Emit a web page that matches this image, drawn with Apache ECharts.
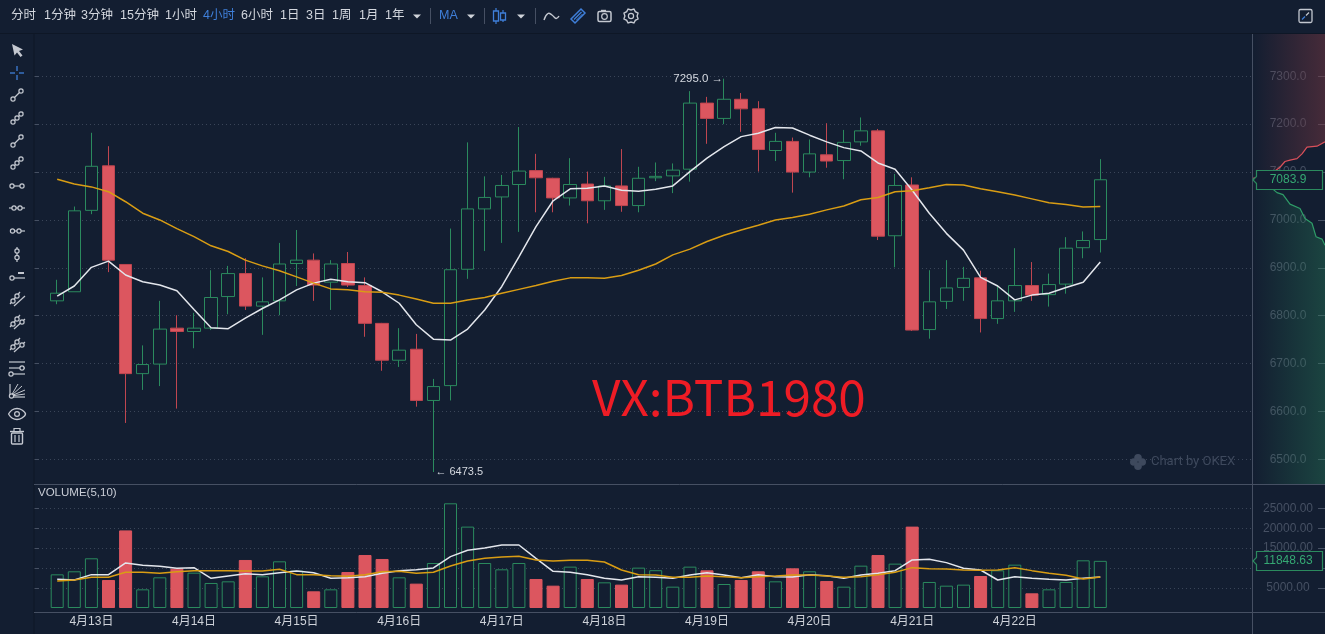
<!DOCTYPE html>
<html><head><meta charset="utf-8">
<style>html,body{margin:0;padding:0;background:#131e31;overflow:hidden}#c{width:1325px;height:634px}</style>
<script src="https://cdn.jsdelivr.net/npm/echarts@6/dist/echarts.min.js"></script>
</head><body><div id="c"></div>
<script>
const opens=[6831,6850,7020,7113,6907,6679,6699,6774,6767,6774,6840,6888,6820,6831,6909,6916,6870,6909,6863,6784,6707,6730,6623,6654,6897,7023,7048,7074,7103,7087,7046,7075,7040,7071,7030,7088,7092,7106,7244,7212,7252,7232,7145,7164,7100,7136,7124,7163,7186,6967,7073,6771,6830,6859,6879,6794,6831,6863,6844,6866,6942,6959];
const closes=[6847,7019,7112,6916,6679,6698,6772,6767,6774,6838,6888,6820,6829,6908,6916,6864,6908,6864,6784,6707,6728,6623,6652,6896,7023,7047,7072,7102,7088,7046,7074,7040,7071,7030,7087,7091,7104,7244,7212,7252,7232,7147,7164,7100,7138,7123,7162,7186,6966,7072,6770,6829,6858,6878,6794,6831,6863,6843,6865,6941,6957,7083.9];
const lows=[6824,6850,7012,6891,6576,6645,6653,6606,6732,6770,6803,6812,6760,6801,6862,6831,6812,6860,6756,6685,6693,6610,6473.5,6623,6877,6935,6952,6975,7016,7016,7030,6993,7021,7017,7016,7081,7056,7080,7159,7200,7184,7101,7123,7057,7089,7109,7085,7155,6958,6901,6768,6752,6814,6831,6765,6783,6808,6831,6819,6846,6920,6932];
const highs=[6875,7028,7182,7154,6907,6738,6831,6801,6806,6895,6904,6920,6880,6952,6979,6930,6916,6933,6880,6785,6774,6762,6668,6982,7162,7091,7094,7194,7138,7088,7129,7101,7090,7148,7111,7120,7118,7269,7257,7295,7265,7248,7182,7172,7168,7202,7188,7214,7190,7096,7089,6895,6916,6902,6894,6864,6941,6912,6888,6964,6976,7127];
const priceMaFast=[6841,6862,6901,6914,6885,6871,6864,6852,6813,6775,6773,6795,6815,6833,6854,6868,6876,6871,6869,6850,6826,6781,6751,6749,6772,6812,6861,6923,6986,7040,7065,7066,7071,7062,7060,7064,7071,7101,7129,7153,7174,7181,7193,7192,7177,7163,7151,7144,7119,7106,7062,7014,6972,6937,6880,6862,6833,6843,6847,6859,6870,6912];
const priceMaSlow=[7085,7075,7069,7059,7038,7014,7000,6982,6965,6946,6934,6916,6904,6894,6881,6868,6856,6854,6850,6849,6843,6835,6826,6826,6833,6838,6847,6855,6863,6872,6879,6879,6878,6884,6895,6908,6927,6939,6955,6968,6979,6989,7000,7005,7012,7021,7029,7042,7047,7059,7061,7067,7074,7073,7065,7059,7052,7044,7036,7032,7027,7028];
const volumes=[8460,9220,12490,7040,19500,4690,7710,9890,8880,6290,6700,12070,7960,11730,9390,4190,4690,9050,13320,12320,7710,6120,11310,26310,20450,11310,9720,11310,7290,5610,10390,7290,6450,5870,10140,9500,5360,10390,9470,6030,7040,9220,6700,9970,9220,6790,5360,10640,13320,11150,20450,6540,5610,5870,8040,9470,10890,3690,4690,6540,11980,11848.63];
const volMaFast=[7210,7040,8380,8380,11310,10730,10480,9970,10140,7460,8050,8630,8380,8880,9300,8880,7460,7630,7880,8720,9390,9640,10060,12910,14500,15080,15840,15840,12490,9220,8970,8380,7460,7040,7880,7710,7460,8300,8880,8300,7630,8380,7880,7790,8380,8130,7460,8300,8720,9390,12070,12230,11400,9970,9550,7040,7880,7460,7210,7040,7460,7790];
const volMaSlow=[6790,7040,7710,7710,8970,8970,8720,9130,9390,9390,9390,9300,9300,9720,8380,8380,8130,7960,8380,9130,9220,8720,8970,10560,11820,12490,12820,12990,12070,11820,11980,11980,11560,9550,8380,8300,7710,7710,8050,7880,7630,7880,8050,8300,8300,8050,7710,7880,8380,8970,10140,9890,9800,9550,9470,9550,10140,9390,8720,8210,7290,7790];
const dateLabels=['4月13日','4月14日','4月15日','4月16日','4月17日','4月18日','4月19日','4月20日','4月21日','4月22日'];
const askDepth=[[0,7087],[7,7090],[14,7094],[20,7099],[27,7110],[32,7122],[37,7125],[44,7128],[49,7138],[54,7152],[64,7154],[72,7163]];
const bidDepth=[[0,7086],[4,7080],[12,7078],[19,7066],[24,7057],[30,7053],[37,7033],[47,7024],[52,7003],[59,6993],[63,6965],[69,6960],[72,6947]];
const periodLabels=['分时','1分钟','3分钟','15分钟','1小时','4小时','6小时','1日','3日','1周','1月','1年'];
const activePeriod='4小时';
const lastPrice=7083.9, lastVolume=11848.63;

const BG='#131e31',UP='#2b8a5e',DN='#dc565f',DNW='#bf4650',GRID='#3a4558',AX='#465063',TXT='#c9cdd6',LBL='#465063',BLUE='#3f7fd9',ICON='#c4c8d0';
const N=opens.length, STEP=17.1, X0=57.2-STEP/2, CW=STEP*N;
const cats=opens.map((_,i)=>i%6===2?dateLabels[(i-2)/6]:'');
const candles=opens.map((o,i)=>[o,closes[i],lows[i],highs[i]]);
const volBars=volumes.map((v,i)=>({value:v,itemStyle:closes[i]>=opens[i]?{color:BG,borderColor:UP,borderWidth:1}:{color:DN,borderColor:DN,borderWidth:1}}));

const font='"Liberation Sans","Noto Sans CJK SC",sans-serif';
const hiddenX=g=>({type:'value',gridIndex:g,show:false,min:0,max:1});
const chart=echarts.init(document.getElementById('c'),null,{renderer:'canvas'});
const gridFrameP={left:34,width:1219,top:76.3,height:383};
const gridFrameV={left:34,width:1219,top:508.3,height:79.6};

const g=[];
const L=(x1,y1,x2,y2,c=ICON,w=1.2)=>g.push({type:'line',silent:true,z:50,shape:{x1,y1,x2,y2},style:{stroke:c,lineWidth:w}});
const R=(cx,cy,r=2.1,c=ICON)=>g.push({type:'circle',silent:true,z:51,shape:{cx,cy,r},style:{fill:BG,stroke:c,lineWidth:1.2}});
const T=(text,x,y,fill,size=12,align='left',ff=font)=>g.push({type:'text',silent:true,z:60,x,y,style:{text,fill,font:size+'px '+ff,textAlign:align,textVerticalAlign:'middle'}});
const P=(points,style,extra={})=>g.push({type:'polygon',silent:true,z:50,shape:{points},style,...extra});
const PL=(points,c=ICON,w=1.3,smooth=0)=>g.push({type:'polyline',silent:true,z:50,shape:{points,smooth},style:{stroke:c,lineWidth:w,fill:null}});
const caret=x=>P([[x-4,14.5],[x+4,14.5],[x,18.5]],{fill:'#d0d4da'});

// frame lines
L(0,33.5,1325,33.5,'#0e1726',1);L(34,34,34,634,'#0e1726',1);
L(1252.5,34,1252.5,634,AX,1);L(34,484.5,1325,484.5,AX,1);L(34,612.5,1325,612.5,AX,1);

// top toolbar
const periodX=[11,44,81,120,165,203,241,280,306,332,359,385];
periodLabels.forEach((t,i)=>T(t,periodX[i],16,t===activePeriod?BLUE:'#d3d7de',12.5));
caret(417);L(430.5,8,430.5,24,AX,1);
T('MA',439,16,BLUE,12.5);caret(471);L(484.5,8,484.5,24,AX,1);
L(496,8,496,24,BLUE,1.2);L(503,10,503,22,BLUE,1.2);
g.push({type:'rect',silent:true,z:51,shape:{x:493.5,y:11,width:5,height:10},style:{fill:BG,stroke:BLUE,lineWidth:1.3}});
g.push({type:'rect',silent:true,z:51,shape:{x:500.5,y:13,width:5,height:7},style:{fill:BG,stroke:BLUE,lineWidth:1.3}});
caret(521);L(535.5,8,535.5,24,AX,1);
PL([[544,20],[548,13.5],[552,15],[556,18.5],[559,16]],ICON,1.4,0.5);
P([[571,19],[581,9],[585,13],[575,23]],{fill:BG,stroke:BLUE,lineWidth:1.5});L(574,19.5,581.5,12,BLUE,1.2);L(576.5,20,582.5,14,BLUE,1);
g.push({type:'rect',silent:true,z:50,shape:{x:598,y:11.5,width:13,height:10,r:1.5},style:{fill:BG,stroke:ICON,lineWidth:1.5}});
L(601,10.5,606,10.5,ICON,1.4);R(604.5,16.5,2.8);
const gear=[];for(let i=0;i<16;i++){const r=i%2?7.6:6.1,a=i*Math.PI/8;gear.push([631+r*Math.cos(a),16+r*Math.sin(a)]);}
P(gear,{fill:BG,stroke:ICON,lineWidth:1.4});R(631,16,2.6);
g.push({type:'rect',silent:true,z:50,shape:{x:1299,y:9.5,width:13,height:13,r:1.5},style:{fill:BG,stroke:ICON,lineWidth:1.3}});
L(1302,19.5,1305,16.5,BLUE,1.2);L(1309,12.5,1306,15.5,ICON,1.2);

// left toolbar
P([[12,44],[23,49.5],[19,51],[22.5,55.5],[20.5,57],[17,52.5],[14.5,55.5]],{fill:ICON});
L(10,73,15,73,BLUE,1.3);L(19,73,24,73,BLUE,1.3);L(17,66,17,71,BLUE,1.3);L(17,75,17,80,BLUE,1.3);
const diag=(y,n,ext)=>{L(12,y+5,22+(ext?1:0),y-5-(ext?1:0));R(13,y+4);R(21,y-4);if(n===3)R(17,y);};
diag(95,2,false);diag(118,3,true);diag(141,2,true);diag(163,3,false);
L(11,186,23,186);R(12,186);R(22,186);
L(9,208,25,208);R(14,208);R(20,208);
L(10,231,25,231);R(12.5,231);R(19,231);
L(17,247,17,262);R(17,251);R(17,257.5);
L(14,278,25,278);R(12,278);L(18,273,24,273,ICON,2);
[299,322,345].forEach((y,k)=>{L(10,y+5,20,y-7);L(14,y+7,25,y-3);R(13,y+2);R(17,y-3);if(k>0)R(22,y);});
[362,368,374].forEach(y=>L(9,y,25,y));R(22,368);R(11,374);
L(10,397,25,397);L(10,384,10,397);[[18,384],[22,386],[25,390],[25,394]].forEach(p=>L(11,396,p[0],p[1],ICON,1));R(11.5,396);
PL([[8.5,414],[12,410],[17,408.5],[22,410],[25.5,414],[22,418],[17,419.5],[12,418],[8.5,414]],ICON,1.4,0.4);R(17,414,2.4);
L(10,431.5,24,431.5,ICON,1.4);g.push({type:'rect',silent:true,z:50,shape:{x:14,y:428.5,width:6,height:3},style:{fill:BG,stroke:ICON,lineWidth:1.2}});
g.push({type:'rect',silent:true,z:50,shape:{x:11.5,y:433,width:11,height:11,r:1},style:{fill:BG,stroke:ICON,lineWidth:1.4}});L(15,435,15,442);L(19,435,19,442);

// annotations
T('VOLUME(5,10)',38,492.5,TXT,11.5);
T('VX:BTB1980',592,397,'#ee1c25',49.5,'left','"Noto Sans CJK SC","Noto Sans",sans-serif');
const WM='#3e495d';
[[1138,457.8],[1133.8,462],[1142.2,462],[1138,466.2]].forEach(p=>g.push({type:'circle',silent:true,z:40,shape:{cx:p[0],cy:p[1],r:3.8},style:{fill:WM}}));
T('Chart by OKEX',1151,462,WM,13,'left','"Roboto",sans-serif');

chart.setOption({
  animation:false,backgroundColor:BG,
  grid:[
    gridFrameP,gridFrameV,
    {left:X0,width:CW,top:34,height:450.3},
    {left:X0,width:CW,top:485,height:123},
    {left:1253,right:0,top:34,height:450.3},
    {left:1318,width:7,top:76.3,height:383},
    {left:1318,width:7,top:508.3,height:79.6}
  ],
  xAxis:[
    hiddenX(0),hiddenX(1),
    {type:'category',gridIndex:2,data:cats,show:false},
    {type:'category',gridIndex:3,data:cats,offset:4,axisLine:{show:false},
     axisTick:{length:3,alignWithLabel:true,interval:(i)=>i%6===2,lineStyle:{color:AX}},
     axisLabel:{interval:0,color:'#cfd3da',fontSize:12,margin:4,fontFamily:font}},
    {type:'value',gridIndex:4,show:false,min:0,max:72},
    hiddenX(5),hiddenX(6)
  ],
  yAxis:[
    {type:'value',gridIndex:0,position:'right',min:6500,max:7300,interval:100,axisLine:{show:false},
     axisTick:{show:true,length:5,lineStyle:{color:AX}},
     axisLabel:{color:LBL,fontSize:12,margin:35,align:'center',fontFamily:font,formatter:v=>v.toFixed(1)},
     splitLine:{lineStyle:{color:GRID,type:[1,3],width:1}}},
    {type:'value',gridIndex:1,position:'right',min:5000,max:25000,interval:5000,axisLine:{show:false},
     axisTick:{show:true,length:5,lineStyle:{color:AX}},
     axisLabel:{color:LBL,fontSize:12,margin:35,align:'center',fontFamily:font,formatter:v=>v.toFixed(2)},
     splitLine:{lineStyle:{color:GRID,type:[1,3],width:1}}},
    {type:'value',gridIndex:2,show:false,min:6447.9,max:7388.3,scale:true,splitLine:{show:false}},
    {type:'value',gridIndex:3,show:false,min:0,max:30910,splitLine:{show:false}},
    {type:'value',gridIndex:4,show:false,min:6447.9,max:7388.3,scale:true,splitLine:{show:false}},
    {type:'value',gridIndex:5,min:6500,max:7300,interval:100,axisLine:{show:false},axisTick:{show:false},axisLabel:{show:false},splitLine:{lineStyle:{color:AX}}},
    {type:'value',gridIndex:6,min:5000,max:25000,interval:5000,axisLine:{show:false},axisTick:{show:false},axisLabel:{show:false},splitLine:{lineStyle:{color:AX}}}
  ],
  series:[
    {name:'K',type:'candlestick',xAxisIndex:2,yAxisIndex:2,data:candles,barWidth:13,clip:false,z:3,
     itemStyle:{color:BG,color0:DN,borderColor:UP,borderColor0:DNW,borderWidth:1},
     markPoint:{symbol:'circle',symbolSize:0,silent:true,data:[
       {coord:[39,7295],value:'7295.0 →',label:{show:true,position:'left',distance:1,formatter:'7295.0 →',color:'#d5d9e0',fontSize:11.5,fontFamily:font}},
       {coord:[22,6473.5],value:'← 6473.5',label:{show:true,position:'right',distance:2,formatter:'← 6473.5',color:'#d5d9e0',fontSize:11,fontFamily:font}}
     ]}},
    {name:'MA5',type:'line',xAxisIndex:2,yAxisIndex:2,data:priceMaFast,showSymbol:false,z:5,lineStyle:{color:'#e3e6ec',width:1.5}},
    {name:'MA30',type:'line',xAxisIndex:2,yAxisIndex:2,data:priceMaSlow,showSymbol:false,z:5,lineStyle:{color:'#d99d14',width:1.5}},
    {name:'VOL',type:'bar',xAxisIndex:3,yAxisIndex:3,data:volBars,barWidth:13,z:3},
    {name:'VMA5',type:'line',xAxisIndex:3,yAxisIndex:3,data:volMaFast,showSymbol:false,z:5,lineStyle:{color:'#e3e6ec',width:1.5}},
    {name:'VMA10',type:'line',xAxisIndex:3,yAxisIndex:3,data:volMaSlow,showSymbol:false,z:5,lineStyle:{color:'#d99d14',width:1.5}},
    {name:'ask',type:'line',xAxisIndex:4,yAxisIndex:4,data:askDepth,showSymbol:false,z:2,lineStyle:{color:'#d9505a',width:1.2},
     areaStyle:{origin:'end',opacity:1,color:new echarts.graphic.LinearGradient(0,0,1,0,[{offset:0,color:'rgba(120,55,65,0)'},{offset:1,color:'rgba(120,55,65,0.5)'}])}},
    {name:'bid',type:'line',xAxisIndex:4,yAxisIndex:4,data:bidDepth,showSymbol:false,z:2,lineStyle:{color:'#2f9d68',width:1.2},
     areaStyle:{origin:'start',opacity:1,color:new echarts.graphic.LinearGradient(0,0,1,0,[{offset:0,color:'rgba(40,130,90,0)'},{offset:1,color:'rgba(40,130,90,0.38)'}])}}
  ],
  graphic:{elements:g}
});

// last-value tags anchored through the axes
const tag=(y,text)=>{
  const t=Math.round(y-9.5)+.5,b=t+19,m=(t+b)/2;
  P([[1253,m],[1256.5,m-3.5],[1256.5,t],[1322.5,t],[1322.5,b],[1256.5,b],[1256.5,m+3.5]],{fill:BG,stroke:'#2b8a5e',lineWidth:1.2},{z:55});
  T(text,1288,m,'#35a873',12,'center');
};
tag(chart.convertToPixel({yAxisIndex:2},lastPrice),lastPrice.toFixed(1));
tag(chart.convertToPixel({yAxisIndex:3},lastVolume)-0.5,lastVolume.toFixed(2));
chart.setOption({graphic:{elements:g}},{replaceMerge:['graphic']});
</script></body></html>
